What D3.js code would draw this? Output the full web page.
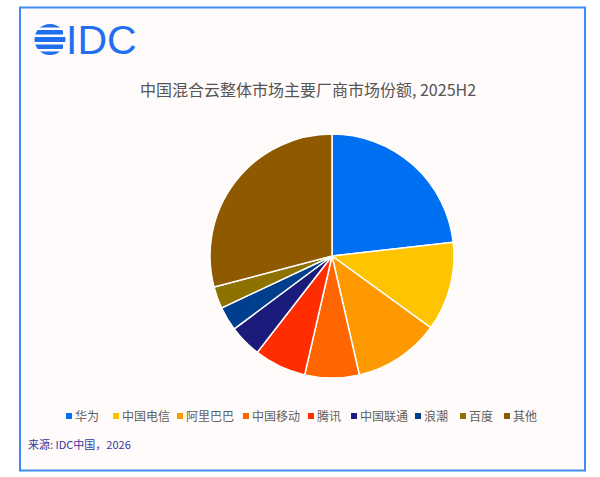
<!DOCTYPE html>
<html>
<head>
<meta charset="utf-8">
<script src="https://cdn.jsdelivr.net/npm/d3@7"></script>
<style>
  html, body { margin: 0; padding: 0; background: #ffffff; }
  text { font-family: "Noto Sans CJK SC", "Noto Sans", sans-serif; }
</style>
</head>
<body>
<div id="root"></div>
<script>
const vendors = ['华为', '中国电信', '阿里巴巴', '中国移动', '腾讯', '中国联通', '浪潮', '百度', '其他'];
const shares = [23.2, 11.8, 11.4, 7.2, 6.9, 4.3, 3.2, 2.9, 29.1];
const colors = ['#0070f2', '#ffc400', '#ff9900', '#ff6600', '#ff2d00', '#1b1b7c', '#003f8e', '#8e7200', '#8f5900'];
const legendX = [69, 116, 180, 246, 311, 354, 418, 463, 507];

const W = 600, H = 477;
const svg = d3.select('#root').append('svg')
  .attr('width', W)
  .attr('height', H);

// frame
svg.append('rect')
  .attr('x', 20).attr('y', 7.5)
  .attr('width', 565).attr('height', 463)
  .style('fill', '#fffbfa')
  .style('stroke', '#3d8cf5')
  .style('stroke-width', 2);

// IDC logo
const logo = svg.append('g');
svg.append('defs').append('clipPath').attr('id', 'globe')
  .append('circle').attr('cx', 50).attr('cy', 39.5).attr('r', 15.5);
const stripes = [
  { y: 24, h: 3.5, dx: 4 },
  { y: 30, h: 4.5, dx: -3 },
  { y: 37, h: 5, dx: 0 },
  { y: 44.5, h: 4.5, dx: -3 },
  { y: 51.5, h: 3.5, dx: 4 }
];
logo.append('g').attr('clip-path', 'url(#globe)')
  .selectAll('rect').data(stripes).join('rect')
  .attr('x', d => 34 + d.dx).attr('y', d => d.y)
  .attr('width', 32).attr('height', d => d.h)
  .style('fill', '#1f6ff0');
logo.append('text')
  .attr('x', 66).attr('y', 54)
  .style('font-family', '"Liberation Sans", Arial, sans-serif')
  .style('font-size', '41px')
  .style('fill', '#1f6ff0')
  .text('IDC');

// title
svg.append('text')
  .attr('x', 308).attr('y', 96)
  .attr('text-anchor', 'middle')
  .style('font-size', '16px')
  .style('fill', '#555555')
  .text('中国混合云整体市场主要厂商市场份额, 2025H2');

// pie
const cx = 332, cy = 256, r = 122;
const pie = d3.pie().sort(null).value(d => d);
const arc = d3.arc().innerRadius(0).outerRadius(r);
svg.append('g')
  .attr('transform', `translate(${cx},${cy})`)
  .selectAll('path')
  .data(pie(shares))
  .join('path')
  .attr('d', arc)
  .style('fill', (d, i) => colors[i])
  .style('stroke', '#ffffff')
  .style('stroke-width', 1.5);

// legend
const legend = svg.append('g').selectAll('g')
  .data(vendors)
  .join('g')
  .attr('transform', (d, i) => `translate(${legendX[i]},416)`);
legend.append('rect')
  .attr('x', -3).attr('y', -3)
  .attr('width', 6).attr('height', 6)
  .style('fill', (d, i) => colors[i]);
legend.append('text')
  .attr('x', 6).attr('y', 4.5)
  .style('font-size', '12px')
  .style('fill', '#606060')
  .text(d => d);

// source
svg.append('text')
  .attr('x', 28).attr('y', 449)
  .style('font-size', '11px')
  .style('fill', '#35359e')
  .text('来源: IDC中国，2026');
</script>
</body>
</html>
